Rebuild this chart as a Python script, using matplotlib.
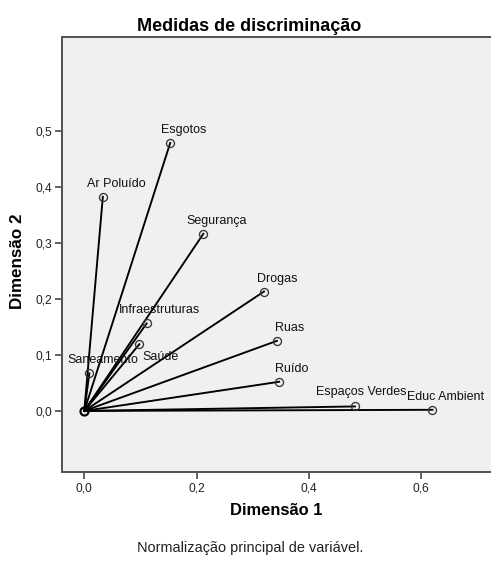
import matplotlib
matplotlib.use("Agg")
import matplotlib.pyplot as plt
from matplotlib.ticker import FuncFormatter

# variáveis e suas medidas de discriminação (dimensão 1, dimensão 2)
variaveis = ["Esgotos", "Ar Poluído", "Segurança", "Drogas", "Ruas", "Ruído",
             "Espaços Verdes", "Educ Ambient", "Infraestruturas", "Saúde", "Saneamento"]
dim1 = [0.153, 0.033, 0.212, 0.320, 0.343, 0.347, 0.482, 0.620, 0.111, 0.098, 0.009]
dim2 = [0.478, 0.382, 0.316, 0.213, 0.125, 0.052, 0.008, 0.002, 0.156, 0.119, 0.067]

xticks = [0.0, 0.2, 0.4, 0.6]
yticks = [0.0, 0.1, 0.2, 0.3, 0.4, 0.5]

# deslocamento dos rótulos (pixels)
desloc = {"Saúde": (21, -13), "Espaços Verdes": (6, 14)}

plt.rcParams["font.family"] = ["Liberation Sans", "DejaVu Sans"]

fig = plt.figure(figsize=(491 / 72, 561 / 72), dpi=72)
ax = fig.add_axes([0.1263, 0.1586, 0.8737, 0.7754])
ax.set_facecolor("#f0f0f0")

for nome, x, y in zip(variaveis, dim1, dim2):
    ax.plot([0, x], [0, y], color="black", linewidth=1.9, zorder=2)
    ax.plot([x], [y], marker="o", markersize=8, markerfacecolor="none",
            markeredgecolor="#333333", markeredgewidth=1.3, zorder=3)
    dx, dy = desloc.get(nome, (13, 13))
    ax.annotate(nome, (x, y), xytext=(dx, dy), textcoords="offset points",
                ha="center", va="center", fontsize=12.5, color="#111111")

ax.plot([0], [0], marker="o", markersize=8, markerfacecolor="none",
        markeredgecolor="black", markeredgewidth=2.2, zorder=4)

ax.set_xlim(-0.0397, 0.7243)
ax.set_ylim(-0.109, 0.667)
ax.set_xticks(xticks)
ax.set_yticks(yticks)
virgula = FuncFormatter(lambda v, p: f"{v:.1f}".replace(".", ","))
ax.xaxis.set_major_formatter(virgula)
ax.yaxis.set_major_formatter(virgula)
ax.tick_params(direction="out", length=7, width=1.8, color="#555555",
               labelsize=12, labelcolor="#222222", pad=3)

for s in ax.spines.values():
    s.set_color("#555555")
    s.set_linewidth(2)
ax.spines["right"].set_visible(False)

ax.set_title("Medidas de discriminação", fontsize=18, fontweight="bold", pad=6, x=0.436)
ax.set_xlabel("Dimensão 1", fontsize=16.5, fontweight="bold", labelpad=9)
ax.set_ylabel("Dimensão 2", fontsize=17, fontweight="bold", labelpad=6)
ax.yaxis.set_label_coords(-0.086, 0.485)

fig.text(0.509, 1 - 548 / 561, "Normalização principal de variável.",
         ha="center", va="center", fontsize=14.5, color="#222222")

fig.savefig("out.png", dpi=72)
